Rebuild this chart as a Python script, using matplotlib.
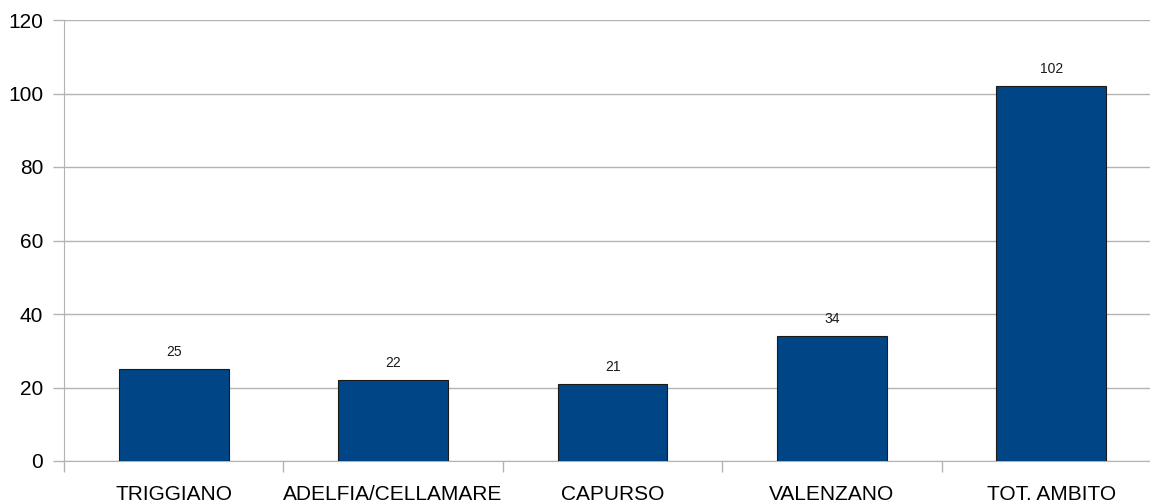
import matplotlib
matplotlib.use("Agg")
import matplotlib.pyplot as plt

categories = ["TRIGGIANO", "ADELFIA/CELLAMARE", "CAPURSO", "VALENZANO", "TOT. AMBITO"]
values = [25, 22, 21, 34, 102]
y_ticks = [0, 20, 40, 60, 80, 100, 120]

plt.rcParams['font.family'] = ['Liberation Sans', 'DejaVu Sans']

W, H = 1150, 504
fig = plt.figure(figsize=(W / 100, H / 100), dpi=100)
left_px, right_px, top_px, bottom_px = 64, 1161, 20, 461
ax = fig.add_axes([left_px / W, (H - bottom_px) / H,
                   (right_px - left_px) / W, (bottom_px - top_px) / H])

grid_c = "#b3b3b3"
x = list(range(len(categories)))
bars = ax.bar(x, values, width=0.5, color="#004586", edgecolor="#1a1a1a",
              linewidth=0.8, zorder=3)
for xi, v in zip(x, values):
    ax.annotate(str(v), (xi, v), xytext=(0, 7), textcoords="offset points",
                ha="center", va="bottom", fontsize=10, color="#1a1a1a")

ax.set_xlim(-0.5, len(categories) - 0.5)
ax.set_ylim(0, 120)
ax.set_yticks(y_ticks)
ax.set_yticklabels([str(t) for t in y_ticks], fontsize=15)
ax.yaxis.grid(True, color=grid_c, linewidth=1, zorder=0)
ax.tick_params(axis="y", length=8, color=grid_c, width=1, pad=7, labelcolor="black")

ax.set_xticks([i - 0.5 for i in range(len(categories) + 1)])
ax.set_xticklabels([])
ax.set_xticks(x, minor=True)
ax.set_xticklabels(categories, minor=True, fontsize=15)
ax.tick_params(axis="x", which="major", length=8, color=grid_c, width=1)
ax.tick_params(axis="x", which="minor", length=0, pad=17.5)

for s in ["top", "right"]:
    ax.spines[s].set_visible(False)
ax.spines["left"].set_color(grid_c)
ax.spines["bottom"].set_color(grid_c)
ax.set_axisbelow(True)

fig.savefig("out.png", dpi=100)
